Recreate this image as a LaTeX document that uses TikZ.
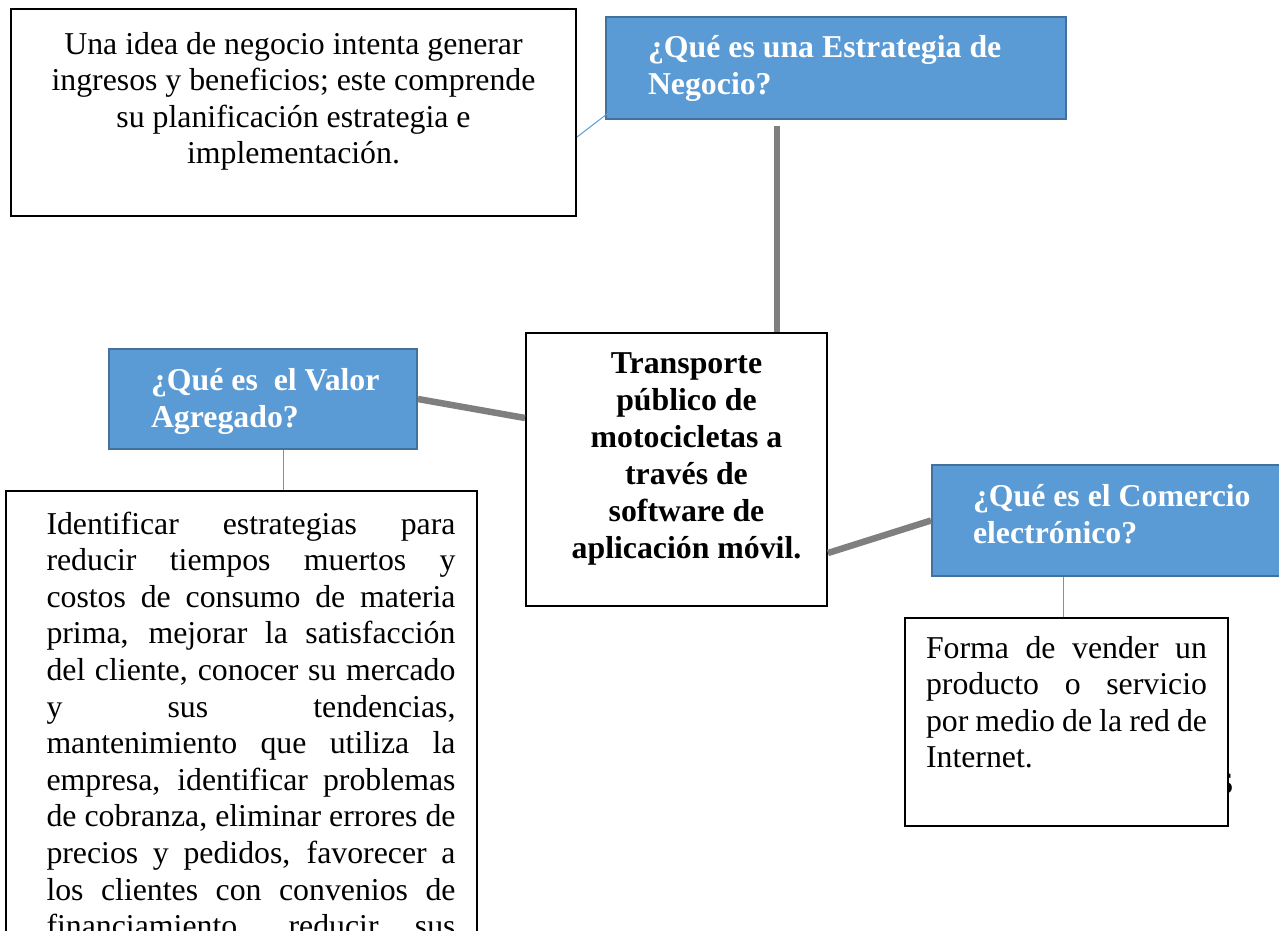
\documentclass[tikz,border=0pt]{standalone}
\usepackage{fontspec}
\setmainfont{Liberation Serif}
\usepackage{xcolor}
\usetikzlibrary{calc}

\definecolor{qfill}{HTML}{5B9BD5}
\definecolor{qedge}{HTML}{41719C}
\definecolor{linkgray}{HTML}{7F7F7F}
\definecolor{linkblue}{HTML}{5B9BD5}

\newcommand{\deftxt}{\fontsize{31.8pt}{36.6pt}\selectfont}
\newcommand{\qtxt}{\fontsize{31.8pt}{37.5pt}\selectfont\bfseries}
\newcommand{\hubtxt}{\fontsize{31.8pt}{37pt}\selectfont\bfseries}
% width, height, top pad, settings, text
\newcommand{\boxin}[5]{\parbox[c][#2][t]{#1}{#4\vspace*{#3}\rule{0pt}{24pt}#5}}
\newcommand{\justset}[2]{\leftskip=#1\rightskip=#2\tolerance=10000\hyphenpenalty=10000\relax}

\begin{document}
\begin{tikzpicture}[x=1pt,y=-1pt,
    defbox/.style={draw=black,line width=2pt,fill=white,inner sep=0pt,anchor=north west,font=\deftxt},
    qbox/.style={draw=qedge,line width=2pt,fill=qfill,inner sep=0pt,anchor=north west,text=white,font=\qtxt},
    hubbox/.style={defbox,font=\hubtxt},
    biglink/.style={draw=linkgray,line width=6.5pt},
    smalllink/.style={draw=linkblue,line width=1pt}]
    \useasboundingbox (0,0) rectangle (1279,930);
    \clip (0,0) rectangle (1279,930);
    \node[font=\fontsize{42pt}{42pt}\selectfont,anchor=base,inner sep=0pt] (hid) at (1226,793){s};
    \node[defbox] (D1) at (10,8){\boxin{565pt}{207pt}{21pt}{\centering}{Una idea de negocio intenta generar\\ingresos y beneficios; este comprende\\su planificación estrategia e\\implementación.}};
    \node[qbox] (Q1) at (605,16){\boxin{460pt}{102pt}{16pt}{\raggedright\leftskip=42pt}{¿Qué es una Estrategia de\\Negocio?}};
    \node[hubbox] (H) at (525,332){\boxin{301pt}{273pt}{16pt}{\centering\leftskip=20pt plus 1fil}{Transporte\\público de\\motocicletas a\\través de\\software de\\aplicación móvil.}};
    \node[qbox] (Q2) at (108,348){\boxin{308pt}{100pt}{17pt}{\raggedright\leftskip=42pt}{¿Qué es~ el Valor\\Agregado?}};
    \node[qbox] (Q3) at (931,464){\boxin{360pt}{111pt}{17pt}{\raggedright\leftskip=41pt}{¿Qué es el Comercio\\electrónico?}};
    \node[defbox] (D2) at (5,490){\boxin{471pt}{520pt}{19pt}{\justset{40.5pt}{21.5pt}}{Identificar estrategias para\linebreak reducir tiempos muertos y\linebreak costos de consumo de materia\linebreak prima, mejorar la satisfacción\linebreak del cliente, conocer su mercado\linebreak y sus tendencias,\linebreak mantenimiento que utiliza la\linebreak empresa, identificar problemas\linebreak de cobranza, eliminar errores de\linebreak precios y pedidos, favorecer a\linebreak los clientes con convenios de\linebreak financiamiento, reducir sus\linebreak}};
    \node[defbox] (D3) at (904,617){\boxin{323pt}{208pt}{16pt}{\justset{21pt}{21pt}}{Forma de vender un\linebreak producto o servicio\linebreak por medio de la red de\linebreak Internet.}};
    \path[biglink] ([xshift=172pt,yshift=-6pt]Q1.south west) edge ([xshift=252pt]H.north west);
    \path[biglink] (Q2.east) edge ([yshift=51.5pt]H.west);
    \path[biglink] ([yshift=-83.5pt]H.east) edge (Q3.west);
    \path[smalllink] ([yshift=-24.5pt]D1.east) edge ([xshift=2pt,yshift=6pt]Q1.south west);
    \path[smalllink] ([xshift=20pt]Q2.south) edge ([xshift=20pt]Q2.south |- D2.north);
    \path[smalllink] ([xshift=132pt]Q3.south west) edge ([xshift=132pt]Q3.south west |- D3.north);
\end{tikzpicture}
\end{document}
